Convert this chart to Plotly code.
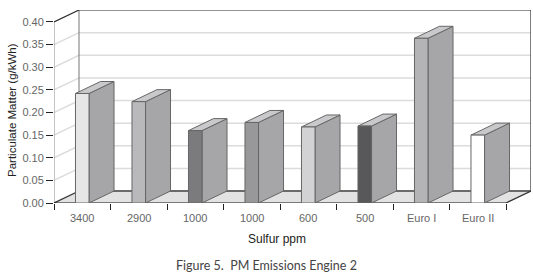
import plotly.graph_objects as go

categories = ["3400", "2900", "1000", "1000", "600", "500", "Euro I", "Euro II"]
pm_values = [0.242, 0.224, 0.160, 0.178, 0.168, 0.170, 0.364, 0.150]
front_colors = ["#e6e6e6", "#b9b9bc", "#7b7b7d", "#98989a", "#d2d2d4", "#58585a", "#b4b4b6", "#ffffff"]
y_ticks = [0.0, 0.05, 0.10, 0.15, 0.20, 0.25, 0.30, 0.35, 0.40]

W, H = 533, 275
ML, MR, MT, MB = 54, 2, 10, 72
DX = 0.4425      # depth offset in category units
DY = 0.0265      # depth offset in value units
HW = 0.12        # half width of a bar front face
YMAX = 0.40
n = len(categories)
x0, x1 = -0.5, n - 0.5

fig = go.Figure()

def poly(xs, ys, fill, line="#666666", lw=1):
    fig.add_trace(go.Scatter(x=xs + [xs[0]], y=ys + [ys[0]], mode="lines", fill="toself",
                             fillcolor=fill, line=dict(color=line, width=lw),
                             hoverinfo="skip", showlegend=False))

def seg(xs, ys, color, lw=1):
    fig.add_trace(go.Scatter(x=xs, y=ys, mode="lines", line=dict(color=color, width=lw),
                             hoverinfo="skip", showlegend=False))

# back wall
poly([x0 + DX, x1 + DX, x1 + DX, x0 + DX], [DY, DY, YMAX + DY, YMAX + DY], "#ffffff", "rgba(0,0,0,0)", 0)
# left wall
poly([x0, x0 + DX, x0 + DX, x0], [0, DY, YMAX + DY, YMAX], "#ffffff", "rgba(0,0,0,0)", 0)
# gridlines
for v in y_ticks[1:-1]:
    seg([x0, x0 + DX, x1 + DX], [v, v + DY, v + DY], "#dcdcdc", 1.5)
# wall edges
seg([x0 + DX, x0 + DX], [DY, YMAX + DY], "#777777", 1)
seg([x0, x0 + DX, x1 + DX, x1 + DX], [YMAX, YMAX + DY, YMAX + DY, DY], "#2a2a2a", 1.2)
seg([x0, x0], [0, YMAX], "#8a8a8a", 1)
# floor
poly([x0, x1, x1 + DX, x0 + DX], [0, 0, DY, DY], "#e2e2e2", "rgba(0,0,0,0)", 0)
seg([x0 + DX, x1 + DX], [DY, DY], "#6a6a6a", 2)
seg([x0, x0 + DX], [0, DY], "#333333", 1.3)
seg([x1, x1 + DX], [0, DY], "#333333", 1.3)
seg([x0, x1], [0, 0], "#111111", 1.2)

# bars
for i, (v, c) in enumerate(zip(pm_values, front_colors)):
    l, r = i - HW, i + HW
    poly([r, r + DX, r + DX, r], [0, DY, v + DY, v], "#a6a6a8")
    poly([l, l + DX, r + DX, r], [v, v + DY, v + DY, v], "#c9c9cb")
    poly([l, r, r, l], [0, 0, v, v], c)

def px2paper_x(px):
    return (px - ML) / (W - ML - MR)

def px2paper_y(py):
    return (H - MB - py) / (H - MT - MB)

tick_font = dict(family="Liberation Sans", size=11, color="#666666")
annotations = []
for i, cat in enumerate(categories):
    annotations.append(dict(x=i, y=0, xref="x", yref="y", text=cat, showarrow=False,
                            xanchor="center", yanchor="middle", yshift=-15,
                            font=dict(family="Liberation Sans", size=11, color="#666666")))
annotations.append(dict(x=px2paper_x(277), y=px2paper_y(239), xref="paper", yref="paper",
                        text="Sulfur ppm", showarrow=False, xanchor="center", yanchor="middle",
                        font=dict(family="Liberation Sans", size=12, color="#222222")))
annotations.append(dict(x=px2paper_x(266), y=px2paper_y(265), xref="paper", yref="paper",
                        text="Figure 5.  PM Emissions Engine 2", showarrow=False,
                        xanchor="center", yanchor="middle",
                        font=dict(family="Lato", size=12.5, color="#444444")))
annotations.append(dict(x=px2paper_x(12), y=px2paper_y(110), xref="paper", yref="paper",
                        text="Particulate Matter (g/kWh)", showarrow=False, textangle=-90,
                        xanchor="center", yanchor="middle",
                        font=dict(family="Liberation Sans", size=11.5, color="#222222")))

fig.update_layout(
    width=W, height=H, margin=dict(l=ML, r=MR, t=MT, b=MB, autoexpand=False),
    paper_bgcolor="white", plot_bgcolor="white",
    xaxis=dict(range=[x0, x1 + DX], showgrid=False, zeroline=False, showline=False,
               tickvals=[k - 0.5 for k in range(n + 1)], ticktext=[""] * (n + 1),
               ticks="outside", ticklen=6, tickcolor="#222222", tickwidth=1, fixedrange=True),
    yaxis=dict(range=[0, YMAX + DY], showgrid=False, zeroline=False, showline=False,
               tickvals=y_ticks, ticktext=[f"{t:.2f}" for t in y_ticks],
               ticks="outside", ticklen=7, tickcolor="#222222", tickwidth=1,
               tickfont=tick_font, fixedrange=True),
    annotations=annotations,
    showlegend=False,
)

fig.write_html("out.html", config={"displayModeBar": False},
               post_script="document.body.style.margin='0';document.body.style.overflow='hidden';")
